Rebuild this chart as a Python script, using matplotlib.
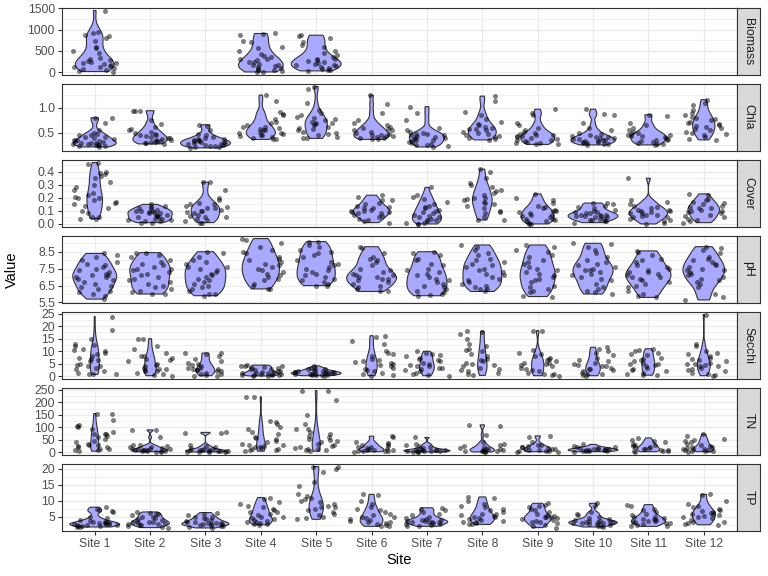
import numpy as np
import matplotlib
matplotlib.use("Agg")
import matplotlib.pyplot as plt
from matplotlib.ticker import FixedLocator, AutoMinorLocator, FormatStrFormatter

plt.rcParams['font.family'] = ['Liberation Sans', 'DejaVu Sans']

sites = ["Site %d" % i for i in range(1, 13)]
variables = ["Biomass", "Chla", "Cover", "pH", "Secchi", "TN", "TP"]

biomass = [
    [1450, 940, 910, 880, 850, 810, 740, 600, 560, 500, 440, 330, 300, 280, 260, 240, 220, 210, 190, 170, 150, 130, 110, 90, 70, 50, 30, 15],
    None, None,
    [910, 890, 880, 740, 700, 600, 560, 500, 420, 380, 350, 320, 300, 280, 250, 230, 200, 180, 160, 140, 120, 100, 80, 60, 40, 20, 10, 5],
    [870, 850, 800, 700, 650, 600, 500, 450, 400, 350, 320, 300, 280, 260, 240, 220, 200, 180, 160, 140, 120, 100, 80, 60, 40, 30],
    None, None, None, None, None, None, None,
]
chla = [
    [0.80, 0.79, 0.70, 0.55, 0.50, 0.48, 0.46, 0.45, 0.42, 0.40, 0.38, 0.36, 0.35, 0.34, 0.32, 0.30, 0.29, 0.28, 0.27, 0.26, 0.25, 0.24, 0.23, 0.22, 0.25, 0.30, 0.33, 0.41],
    [0.94, 0.94, 0.93, 0.75, 0.68, 0.62, 0.58, 0.55, 0.52, 0.50, 0.48, 0.46, 0.45, 0.42, 0.40, 0.38, 0.36, 0.35, 0.34, 0.33, 0.32, 0.31, 0.30, 0.29, 0.28, 0.44, 0.39],
    [0.66, 0.63, 0.55, 0.48, 0.45, 0.42, 0.40, 0.38, 0.37, 0.36, 0.35, 0.33, 0.32, 0.30, 0.29, 0.28, 0.27, 0.26, 0.25, 0.24, 0.23, 0.22, 0.21, 0.20, 0.31, 0.34],
    [1.25, 1.13, 0.92, 0.88, 0.85, 0.78, 0.72, 0.65, 0.62, 0.60, 0.58, 0.55, 0.52, 0.50, 0.48, 0.46, 0.45, 0.44, 0.42, 0.40, 0.38, 0.37, 0.62, 0.55, 0.70, 0.50],
    [1.42, 1.38, 1.10, 0.95, 0.90, 0.85, 0.82, 0.80, 0.78, 0.75, 0.72, 0.70, 0.68, 0.65, 0.62, 0.60, 0.58, 0.55, 0.52, 0.50, 0.48, 0.45, 0.42, 0.40, 0.39, 0.70],
    [1.25, 1.07, 0.90, 0.75, 0.70, 0.65, 0.60, 0.58, 0.55, 0.52, 0.50, 0.48, 0.46, 0.45, 0.43, 0.42, 0.40, 0.39, 0.38, 0.37, 0.62, 0.55, 0.44],
    [1.02, 0.89, 0.75, 0.60, 0.55, 0.52, 0.50, 0.48, 0.46, 0.45, 0.43, 0.42, 0.40, 0.38, 0.36, 0.35, 0.33, 0.31, 0.30, 0.28, 0.26, 0.25, 0.24, 0.22, 0.40, 0.47],
    [1.23, 1.13, 0.92, 0.85, 0.78, 0.72, 0.65, 0.62, 0.60, 0.58, 0.55, 0.52, 0.50, 0.48, 0.46, 0.44, 0.42, 0.40, 0.38, 0.36, 0.68, 0.57],
    [0.97, 0.89, 0.85, 0.70, 0.65, 0.60, 0.55, 0.52, 0.50, 0.48, 0.46, 0.45, 0.43, 0.42, 0.40, 0.38, 0.36, 0.35, 0.33, 0.31, 0.30, 0.29, 0.28, 0.27, 0.44],
    [0.97, 0.88, 0.85, 0.70, 0.60, 0.55, 0.50, 0.48, 0.46, 0.44, 0.42, 0.41, 0.40, 0.39, 0.38, 0.37, 0.36, 0.35, 0.34, 0.33, 0.32, 0.31, 0.30, 0.29, 0.28, 0.27, 0.26],
    [0.86, 0.83, 0.70, 0.65, 0.60, 0.55, 0.52, 0.50, 0.48, 0.46, 0.45, 0.44, 0.43, 0.42, 0.40, 0.38, 0.36, 0.35, 0.33, 0.31, 0.30, 0.28, 0.27, 0.26],
    [1.16, 1.10, 1.05, 0.95, 0.90, 0.85, 0.82, 0.80, 0.78, 0.75, 0.72, 0.70, 0.68, 0.66, 0.64, 0.62, 0.60, 0.58, 0.55, 0.52, 0.50, 0.48, 0.45, 0.42, 0.38, 0.36],
]
cover = [
    [0.47, 0.46, 0.40, 0.39, 0.38, 0.37, 0.35, 0.32, 0.30, 0.28, 0.26, 0.24, 0.22, 0.21, 0.20, 0.18, 0.17, 0.16, 0.15, 0.14, 0.12, 0.10, 0.08, 0.05, 0.05, 0.04, 0.04, 0.20],
    [0.15, 0.14, 0.13, 0.12, 0.12, 0.11, 0.10, 0.10, 0.09, 0.09, 0.08, 0.08, 0.07, 0.07, 0.06, 0.05, 0.05, 0.04, 0.04, 0.03, 0.03, 0.02, 0.02, 0.01, 0.01, 0.06, 0.10],
    [0.32, 0.32, 0.26, 0.20, 0.18, 0.16, 0.15, 0.15, 0.14, 0.13, 0.12, 0.11, 0.10, 0.10, 0.09, 0.08, 0.07, 0.06, 0.05, 0.04, 0.03, 0.02, 0.01, 0.01, 0.05, 0.12],
    None, None,
    [0.22, 0.21, 0.18, 0.18, 0.16, 0.15, 0.14, 0.13, 0.12, 0.11, 0.10, 0.10, 0.09, 0.09, 0.08, 0.08, 0.07, 0.06, 0.05, 0.04, 0.03, 0.02, 0.01, 0.12],
    [0.28, 0.22, 0.21, 0.19, 0.17, 0.15, 0.14, 0.13, 0.12, 0.11, 0.10, 0.09, 0.08, 0.07, 0.06, 0.05, 0.05, 0.04, 0.03, 0.03, 0.02, 0.01, 0.01, 0.0, 0.0],
    [0.42, 0.40, 0.35, 0.31, 0.30, 0.28, 0.26, 0.25, 0.24, 0.22, 0.20, 0.19, 0.18, 0.17, 0.16, 0.15, 0.14, 0.12, 0.10, 0.09, 0.08, 0.05, 0.03, 0.03, 0.20],
    [0.23, 0.20, 0.18, 0.16, 0.14, 0.13, 0.12, 0.11, 0.10, 0.09, 0.08, 0.07, 0.07, 0.06, 0.05, 0.04, 0.04, 0.03, 0.02, 0.02, 0.01, 0.0, 0.0, 0.10],
    [0.16, 0.16, 0.15, 0.14, 0.13, 0.12, 0.11, 0.10, 0.09, 0.09, 0.08, 0.08, 0.07, 0.07, 0.06, 0.06, 0.05, 0.05, 0.04, 0.04, 0.03, 0.03, 0.02, 0.02, 0.01, 0.07, 0.06],
    [0.35, 0.18, 0.17, 0.15, 0.14, 0.13, 0.12, 0.11, 0.10, 0.10, 0.09, 0.08, 0.08, 0.07, 0.06, 0.05, 0.05, 0.04, 0.03, 0.02, 0.01, 0.0, 0.11, 0.07],
    [0.23, 0.22, 0.19, 0.18, 0.17, 0.16, 0.15, 0.14, 0.13, 0.12, 0.11, 0.10, 0.10, 0.09, 0.08, 0.07, 0.06, 0.05, 0.04, 0.03, 0.02, 0.01, 0.12],
]
ph = [
    [8.4, 8.3, 8.2, 8.0, 7.9, 7.8, 7.7, 7.6, 7.5, 7.4, 7.3, 7.2, 7.1, 7.1, 7.0, 7.0, 6.9, 6.8, 6.7, 6.6, 6.5, 6.4, 6.3, 6.2, 6.1, 6.0, 5.9, 5.7],
    [8.45, 8.4, 8.3, 8.2, 8.0, 7.9, 7.8, 7.7, 7.6, 7.5, 7.4, 7.3, 7.2, 7.1, 7.0, 6.9, 6.8, 6.7, 6.6, 6.5, 6.4, 6.3, 6.2, 6.1, 6.0, 6.0, 7.5],
    [8.5, 8.4, 8.2, 8.0, 7.9, 7.8, 7.6, 7.5, 7.4, 7.3, 7.2, 7.1, 7.0, 6.9, 6.8, 6.7, 6.6, 6.5, 6.4, 6.3, 6.2, 6.0, 6.0, 5.9, 7.6],
    [9.28, 9.2, 9.0, 8.8, 8.6, 8.5, 8.4, 8.2, 8.1, 8.0, 7.9, 7.8, 7.7, 7.6, 7.5, 7.4, 7.3, 7.2, 7.1, 7.0, 6.9, 6.8, 6.6, 6.5, 6.3, 6.3],
    [9.1, 9.05, 8.9, 8.8, 8.6, 8.5, 8.4, 8.3, 8.2, 8.0, 7.9, 7.8, 7.7, 7.6, 7.5, 7.4, 7.3, 7.2, 7.1, 7.0, 6.9, 6.8, 6.7, 6.6, 6.5, 6.5],
    [8.8, 8.75, 8.4, 8.2, 8.1, 8.0, 7.9, 7.7, 7.5, 7.4, 7.3, 7.2, 7.1, 7.1, 7.0, 7.0, 6.9, 6.9, 6.8, 6.7, 6.6, 6.5, 6.4, 6.3, 6.2, 6.15],
    [8.5, 8.4, 8.3, 8.1, 8.0, 7.8, 7.7, 7.5, 7.4, 7.3, 7.2, 7.1, 7.0, 6.9, 6.8, 6.7, 6.6, 6.5, 6.4, 6.3, 6.2, 6.1, 6.0, 5.9, 5.95],
    [8.9, 8.8, 8.6, 8.4, 8.3, 8.1, 8.0, 7.9, 7.8, 7.7, 7.6, 7.5, 7.4, 7.3, 7.2, 7.1, 7.0, 6.9, 6.8, 6.7, 6.6, 6.5, 6.4, 6.3, 6.15, 6.3],
    [8.9, 8.8, 8.6, 8.5, 8.3, 8.2, 8.0, 7.9, 7.8, 7.6, 7.5, 7.4, 7.3, 7.2, 7.1, 7.0, 6.9, 6.8, 6.7, 6.5, 6.4, 6.3, 6.2, 6.1, 5.9, 5.85],
    [9.0, 8.95, 8.8, 8.6, 8.4, 8.2, 8.0, 7.9, 7.8, 7.7, 7.6, 7.5, 7.4, 7.3, 7.2, 7.1, 7.0, 6.9, 6.8, 6.6, 6.4, 6.3, 6.2, 6.1, 6.0, 7.4],
    [8.55, 8.5, 8.3, 8.1, 8.0, 7.9, 7.7, 7.6, 7.5, 7.4, 7.3, 7.2, 7.1, 7.0, 7.0, 6.9, 6.8, 6.7, 6.6, 6.5, 6.4, 6.2, 6.0, 5.9, 5.8, 7.3],
    [8.8, 8.7, 8.6, 8.4, 8.2, 8.1, 8.0, 7.9, 7.8, 7.7, 7.6, 7.5, 7.4, 7.3, 7.2, 7.1, 7.0, 6.9, 6.8, 6.7, 6.6, 6.4, 6.0, 5.8, 5.65, 7.45],
]
secchi = [
    [23.8, 18.3, 15, 13, 12.5, 12, 11, 10.5, 10, 9.5, 9, 8, 7.5, 7, 6.5, 6, 5, 4.5, 4, 4, 3.5, 3, 2, 1.5, 1, 0.8, 0.8],
    [15, 14.8, 12, 11, 9.5, 8, 8, 7.5, 7, 6.5, 6, 5, 4.5, 4, 3.5, 3, 3, 2.5, 2, 2, 1.5, 1, 0.5, 0.3],
    [9.3, 9.2, 8.8, 8, 7, 6, 5.5, 5, 4.5, 4, 3.5, 3, 3, 2.5, 2.5, 2, 2, 1.5, 1, 1, 0.5, 0.3, 0.3, 3.2],
    [4.5, 4.3, 4.2, 4.0, 3.8, 3.5, 3.2, 3.0, 2.8, 2.5, 2.3, 2.0, 1.8, 1.6, 1.5, 1.3, 1.2, 1.0, 0.9, 0.8, 0.7, 0.6, 0.5, 0.4, 0.3, 0.2],
    [4.2, 3.5, 3.2, 3.0, 2.8, 2.5, 2.3, 2.1, 2.0, 1.9, 1.8, 1.7, 1.6, 1.5, 1.4, 1.3, 1.2, 1.1, 1.0, 0.9, 0.8, 0.7, 0.6, 0.5, 0.4, 0.3],
    [16.2, 15.5, 14, 13, 10, 9.5, 9, 8, 7, 6.5, 6, 5.5, 5, 4.5, 4, 3.5, 3, 2.5, 2, 1.5, 1, 0.5, 0.3, 5.8],
    [10.0, 9.5, 9.0, 8.5, 8, 7.5, 7, 6.5, 6, 5.5, 5, 4.5, 4, 3.5, 3, 2.5, 2, 1.5, 1, 0.5, 0.3, 4.2, 3.2],
    [18, 17.8, 17, 15, 13, 12, 11, 10.5, 10, 9, 8, 7, 6.5, 6, 5, 4.5, 4, 3.5, 3, 2.5, 2, 1.5, 1, 0.4, 5.2],
    [18.2, 18, 10.7, 9.5, 9, 8, 7.5, 7, 6.5, 6, 5.5, 5, 4.5, 4, 3.5, 3, 2.5, 2, 1.5, 1, 0.8, 0.5, 0.3, 5.3],
    [11.6, 11, 10, 9.5, 8.5, 7.5, 6.5, 6, 5.5, 5, 4.5, 4, 3.5, 3, 3, 2.5, 2, 1.5, 1, 0.8, 0.5, 0.3, 4.2],
    [11, 10.5, 10, 9.5, 9, 8.5, 7.5, 7, 6.5, 6, 5.5, 5, 4.5, 4, 3.5, 3, 2.5, 2, 1.5, 1, 0.7, 0.5, 5.1],
    [24.6, 13, 12, 10, 9.5, 9, 8, 7.5, 7, 6.5, 6, 5.5, 5, 4.5, 4, 3.5, 3, 2.5, 2, 1.5, 1, 0.5, 0.3, 4.2, 5],
]
tn = [
    [155, 152, 130, 110, 105, 100, 92, 80, 75, 75, 72, 65, 60, 55, 45, 40, 35, 30, 28, 25, 22, 20, 15, 12, 10, 8, 5],
    [90, 88, 60, 30, 28, 25, 22, 20, 18, 15, 14, 12, 10, 9, 8, 7, 6, 5, 4, 3, 3, 10, 12],
    [80, 78, 78, 30, 25, 22, 18, 15, 12, 10, 9, 8, 7, 6, 5, 4, 3, 3, 2, 2, 5, 8],
    [222, 220, 125, 120, 115, 100, 95, 80, 75, 60, 58, 55, 45, 40, 35, 30, 28, 25, 22, 20, 18, 15, 12, 10, 8, 5],
    [247, 245, 210, 150, 115, 95, 92, 80, 75, 65, 60, 55, 50, 45, 40, 35, 30, 25, 20, 18, 15, 12, 10, 8, 5],
    [65, 60, 40, 38, 35, 30, 25, 22, 20, 18, 15, 12, 10, 8, 7, 6, 5, 4, 3, 10],
    [60, 35, 30, 25, 20, 18, 15, 12, 10, 9, 8, 7, 6, 5, 4, 3, 3, 2, 10, 6],
    [110, 105, 70, 40, 35, 30, 25, 20, 18, 15, 12, 10, 8, 7, 6, 5, 4, 3, 2, 12],
    [66, 60, 40, 30, 28, 25, 22, 20, 18, 15, 12, 10, 8, 6, 5, 4, 3, 3, 15],
    [32, 25, 22, 20, 18, 16, 15, 14, 13, 12, 11, 10, 9, 8, 7, 6, 5, 4, 3],
    [58, 50, 45, 40, 35, 30, 28, 25, 20, 18, 15, 12, 10, 8, 6, 5, 4, 3, 22],
    [73, 65, 55, 50, 45, 40, 35, 30, 25, 22, 20, 18, 15, 12, 10, 8, 6, 5, 4, 3, 15],
]
tp = [
    [8, 7.5, 7, 6.8, 6.5, 5, 4.5, 4, 3.8, 3.5, 3.3, 3.2, 3.0, 3.0, 2.9, 2.8, 2.7, 2.6, 2.5, 2.4, 2.3, 2.2, 2.1, 2.0, 1.9, 1.8],
    [6.5, 6.2, 6.0, 5.8, 5.5, 5.0, 4.8, 4.5, 4.2, 4.0, 3.8, 3.5, 3.3, 3.0, 2.9, 2.8, 2.6, 2.5, 2.3, 2.0, 1.8, 1.6, 3.2],
    [6.3, 6.0, 5.5, 5.0, 4.8, 4.5, 4.2, 4.0, 3.8, 3.5, 3.3, 3.0, 2.9, 2.8, 2.7, 2.6, 2.5, 2.4, 2.2, 2.0, 1.8, 1.5, 3.1],
    [11, 10.5, 9.5, 9, 8.5, 8, 7.5, 7, 6.5, 6, 5.5, 5, 4.8, 4.5, 4.2, 4.0, 3.8, 3.5, 3.3, 3.0, 2.8, 2.5, 6.6, 2.7],
    [20.7, 20.5, 20, 19, 16, 14.5, 12, 11.5, 11, 10.5, 10, 9.5, 9, 8.5, 8, 8, 7.5, 7, 6.5, 6, 5.5, 5, 4.5, 4.2],
    [12, 11.8, 10, 9, 8, 7.5, 7, 6.5, 6, 5.5, 5, 4.8, 4.5, 4.2, 4, 3.8, 3.5, 3.2, 3, 2.8, 2.5, 2.2, 2],
    [7.8, 7.5, 7.2, 6.5, 6, 5.5, 5, 4.5, 4.2, 4, 3.8, 3.6, 3.5, 3.4, 3.3, 3.2, 3.0, 2.8, 2.6, 2.4, 2.2, 2.0, 3.9],
    [11.2, 10.8, 10, 9, 8.5, 8, 7.5, 7, 6.5, 6, 5.8, 5.5, 5.2, 5, 4.8, 4.5, 4.2, 4, 3.8, 3.5, 3.2, 3, 2.8, 2.6],
    [9.2, 8.8, 8.5, 8, 7.5, 7, 6.5, 6, 5.5, 5.2, 5, 4.8, 4.5, 4.2, 4, 3.8, 3.5, 3.2, 3, 2.5, 2, 1.6, 5],
    [9.2, 8.5, 6.5, 6, 5.5, 5, 4.5, 4.2, 4, 3.8, 3.6, 3.5, 3.4, 3.3, 3.2, 3.1, 3.0, 2.9, 2.8, 2.6, 2.4, 2.2, 2.0, 1.8],
    [8.8, 8.5, 7.5, 7, 6.5, 6, 5.5, 5, 4.8, 4.5, 4.2, 4, 3.8, 3.6, 3.5, 3.3, 3.1, 3, 2.8, 2.5, 2.2, 2, 4.4],
    [12, 11.8, 10, 9, 8.5, 8, 7.5, 7, 6.8, 6.5, 6.2, 6, 5.8, 5.5, 5.2, 5, 4.8, 4.5, 4, 3.5, 3.2, 3, 2.8, 2.5],
]

panel_data = [biomass, chla, cover, ph, secchi, tn, tp]
yticks = [
    [0, 500, 1000, 1500],
    [0.5, 1.0],
    [0.0, 0.1, 0.2, 0.3, 0.4],
    [5.5, 6.5, 7.5, 8.5],
    [0, 5, 10, 15, 20, 25],
    [0, 50, 100, 150, 200, 250],
    [5, 10, 15, 20],
]
tick_fmt = ["%d", "%.1f", "%.1f", "%.1f", "%d", "%d", "%d"]


def nrd0(v):
    sd = np.std(v, ddof=1)
    q75, q25 = np.percentile(v, [75, 25])
    lo = min(sd, (q75 - q25) / 1.34)
    if lo <= 0:
        lo = sd
    return 0.9 * lo * len(v) ** -0.2


def kde(v, grid):
    bw = nrd0(v)
    z = (grid[:, None] - v[None, :]) / bw
    return np.exp(-0.5 * z ** 2).sum(axis=1) / (len(v) * bw * np.sqrt(2 * np.pi))


def jitter(n, seed):
    # decalage horizontal deterministe, entre -0.4 et 0.4
    k = np.arange(n) + 1.0
    u = np.sin(k * 12.9898 + seed * 78.233) * 43758.5453
    return (u - np.floor(u) - 0.5) * 0.8


W, H = 768, 576
fig = plt.figure(figsize=(7.68, 5.76), dpi=100)

left, right = 61.5, 737.0
strip_w = 23.0
grey20 = "#333333"

for r, (name, groups) in enumerate(zip(variables, panel_data)):
    top = 7.5 + 76 * r
    h = 67.5
    ax = fig.add_axes([left / W, 1 - (top + h) / H, (right - left) / W, h / H])

    # densites de chaque violon (echelle "area" dans le panneau)
    curves = []
    allv = []
    for i, g in enumerate(groups):
        if g is None:
            continue
        v = np.array(g, dtype=float)
        allv.extend(v)
        yy = np.linspace(v.min(), v.max(), 512)
        curves.append((i + 1, v, yy, kde(v, yy)))
    dmax = max(c[3].max() for c in curves)

    for x, v, yy, dd in curves:
        hw = 0.45 * dd / dmax
        xs = np.concatenate([x - hw, (x + hw)[::-1]])
        ys = np.concatenate([yy, yy[::-1]])
        ax.fill(xs, ys, facecolor="#A9A9FF", edgecolor=grey20, linewidth=0.8, zorder=2)

    for x, v, yy, dd in curves:
        off = jitter(len(v), x + 13 * r)
        ax.scatter(x + off, v, s=13, color="black", alpha=0.5, linewidths=0, zorder=3)

    lo, hi = min(allv), max(allv)
    pad = 0.05 * (hi - lo)
    ax.set_ylim(lo - pad, hi + pad)
    ax.set_xlim(0.4, 12.6)

    ax.yaxis.set_major_locator(FixedLocator(yticks[r]))
    ax.yaxis.set_minor_locator(AutoMinorLocator(2))
    ax.yaxis.set_major_formatter(FormatStrFormatter(tick_fmt[r]))
    ax.set_xticks(range(1, 13))
    ax.grid(which="major", color="#EBEBEB", linewidth=1.0, zorder=0)
    ax.grid(which="minor", axis="y", color="#EBEBEB", linewidth=0.5, zorder=0)
    ax.set_axisbelow(True)
    ax.tick_params(axis="y", which="minor", length=0)
    ax.tick_params(axis="both", which="major", length=2.7, width=0.8, color=grey20,
                   labelsize=8.8, labelcolor="#4D4D4D", pad=2)
    if r < len(variables) - 1:
        ax.tick_params(axis="x", length=0, labelbottom=False)
    else:
        ax.set_xticklabels(sites)
    for s in ax.spines.values():
        s.set_color(grey20)
        s.set_linewidth(0.8)

    # bandeau a droite
    sax = fig.add_axes([right / W, 1 - (top + h) / H, strip_w / W, h / H])
    sax.set_facecolor("#D9D9D9")
    sax.set_xticks([])
    sax.set_yticks([])
    for s in sax.spines.values():
        s.set_color(grey20)
        s.set_linewidth(0.8)
    sax.text(0.5, 0.5, name, rotation=-90, ha="center", va="center",
             fontsize=8.8, color="#1A1A1A", transform=sax.transAxes)

fig.text(12 / W, 1 - 270 / H, "Value", rotation=90, ha="center", va="center", fontsize=10.5)
fig.text((left + right) / 2 / W, 1 - 560 / H, "Site", ha="center", va="center", fontsize=10.5)

fig.savefig("out.png", dpi=100)
